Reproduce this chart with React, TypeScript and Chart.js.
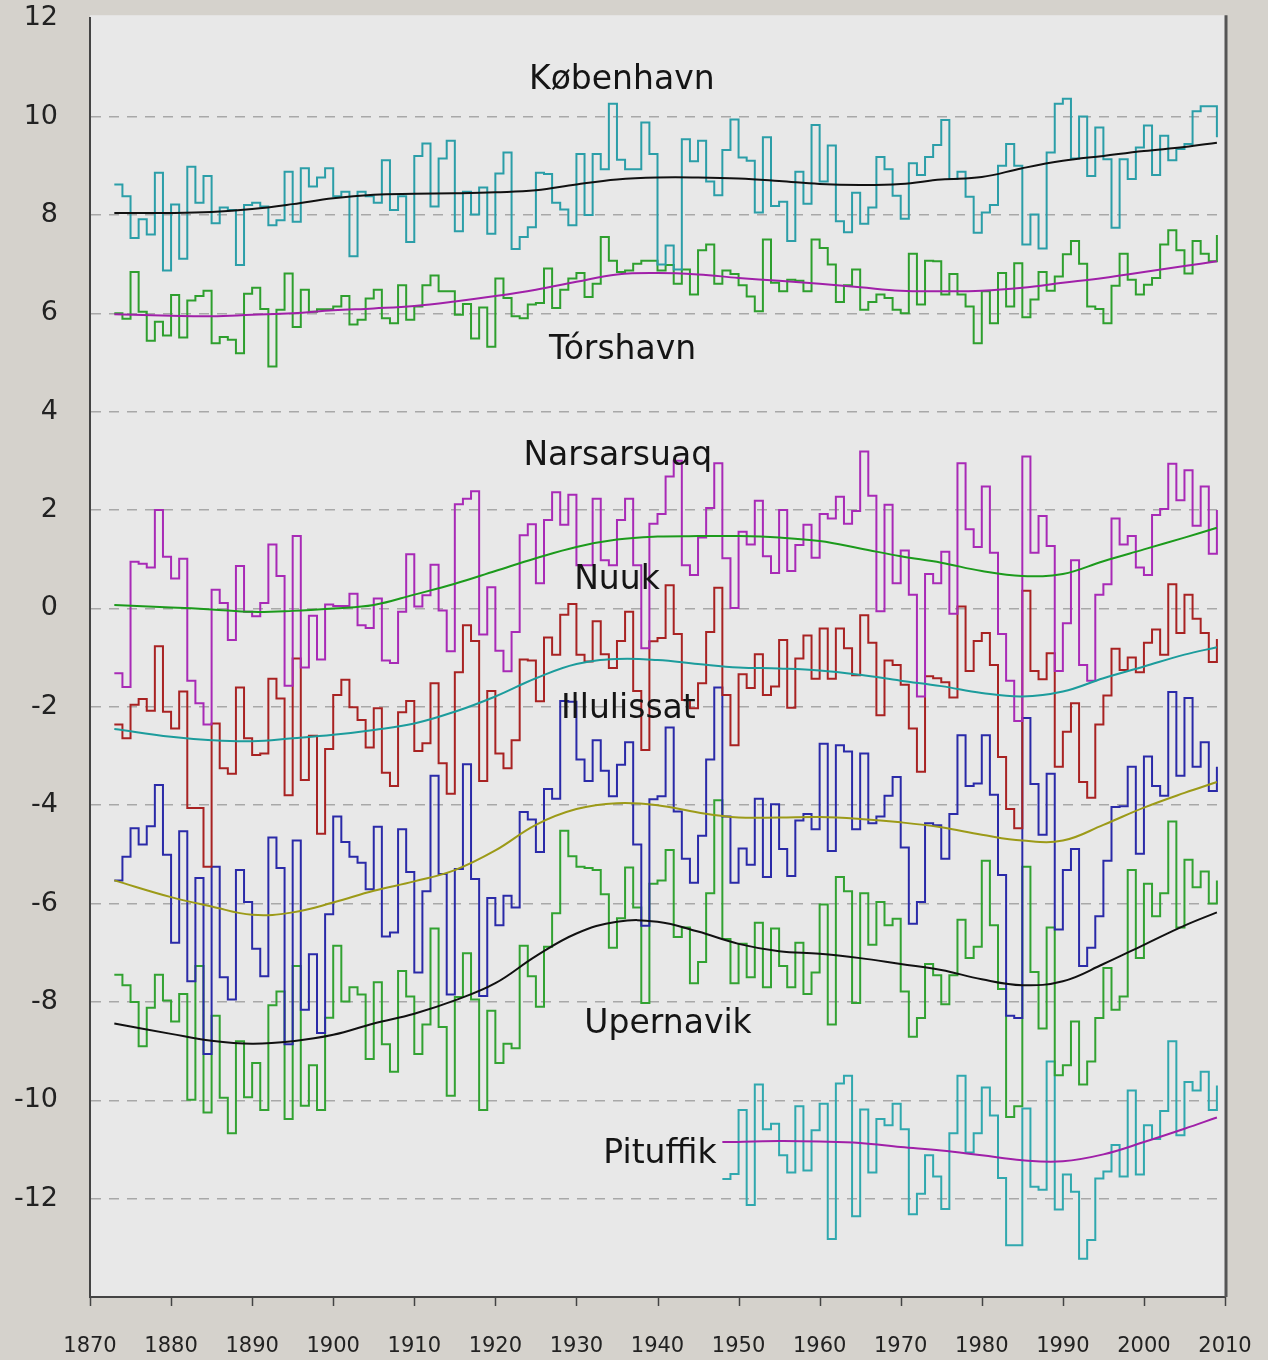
import React, { useEffect, useRef } from 'react';
import { Chart, registerables } from 'chart.js';

Chart.register(...registerables);

const FONT = "'DejaVu Sans', Verdana, sans-serif";

// first year of the long station series, and of Pituffik
const startYear = 1873;
const pituffikStart = 1948;

// annual mean temperatures (°C), 1873-2009
const kobenhavn = [
  8.62, 8.38, 7.53, 7.91, 7.60, 8.86, 6.87, 8.21, 7.11, 8.98,
  8.25, 8.79, 7.83, 8.15, 8.10, 6.98, 8.20, 8.25, 8.17, 7.79,
  7.89, 8.88, 7.86, 8.95, 8.58, 8.76, 8.95, 8.38, 8.47, 7.16,
  8.47, 8.38, 8.25, 9.11, 8.10, 8.38, 7.45, 9.20, 9.45, 8.17,
  9.15, 9.51, 7.67, 8.47, 8.01, 8.56, 7.62, 8.84, 9.27, 7.31,
  7.55, 7.75, 8.86, 8.83, 8.25, 8.11, 7.79, 9.24, 8.00, 9.24,
  8.93, 10.26, 9.12, 8.93, 8.93, 9.88, 9.24, 6.99, 7.38, 6.89,
  9.54, 9.09, 9.51, 8.68, 8.40, 9.32, 9.94, 9.17, 9.10, 8.05,
  9.58, 8.18, 8.27, 7.47, 8.88, 8.23, 9.83, 8.68, 9.41, 7.87,
  7.65, 8.45, 7.82, 8.15, 9.18, 8.93, 8.39, 7.92, 9.05, 8.81,
  9.18, 9.42, 9.93, 8.73, 8.88, 8.37, 7.64, 8.05, 8.20, 9.00,
  9.44, 9.00, 7.40, 8.01, 7.32, 9.27, 10.26, 10.36, 9.15, 10.00,
  8.79, 9.78, 9.13, 7.74, 9.13, 8.73, 9.37, 9.82, 8.81, 9.61,
  9.11, 9.34, 9.44, 10.11, 10.21, 10.21, 9.58,
];

const torshavn = [
  6.00, 5.89, 6.84, 6.03, 5.44, 5.83, 5.55, 6.37, 5.51, 6.26,
  6.35, 6.46, 5.39, 5.52, 5.46, 5.19, 6.40, 6.52, 6.09, 4.92,
  6.07, 6.81, 5.72, 6.48, 6.03, 6.08, 6.08, 6.14, 6.35, 5.77,
  5.87, 6.30, 6.48, 5.90, 5.80, 6.57, 5.87, 6.14, 6.57, 6.77,
  6.45, 6.45, 5.97, 6.19, 5.49, 6.12, 5.32, 6.71, 6.31, 5.94,
  5.90, 6.18, 6.21, 6.91, 6.11, 6.48, 6.71, 6.82, 6.33, 6.60,
  7.55, 7.07, 6.84, 6.87, 7.01, 7.07, 7.07, 6.87, 6.98, 6.60,
  6.89, 6.38, 7.28, 7.40, 6.60, 6.87, 6.80, 6.57, 6.34, 6.04,
  7.50, 6.62, 6.45, 6.68, 6.66, 6.45, 7.50, 7.33, 6.99, 6.23,
  6.57, 6.89, 6.07, 6.23, 6.38, 6.31, 6.07, 6.00, 7.21, 6.18,
  7.07, 7.06, 6.38, 6.80, 6.38, 6.14, 5.39, 6.45, 5.80, 6.82,
  6.14, 7.02, 5.92, 6.28, 6.84, 6.46, 6.75, 7.20, 7.47, 7.01,
  6.14, 6.09, 5.80, 6.56, 7.21, 6.68, 6.38, 6.58, 6.72, 7.40,
  7.69, 7.28, 6.81, 7.47, 7.21, 7.06, 7.59,
];

const narsarsuaq = [
  -1.32, -1.60, 0.95, 0.91, 0.83, 2.00, 1.05, 0.61, 1.01, -1.47,
  -1.93, -2.36, 0.38, 0.11, -0.64, 0.86, -0.07, -0.16, 0.11, 1.30,
  0.66, -1.57, 1.47, -1.20, -0.15, -1.04, 0.08, 0.05, 0.05, 0.30,
  -0.34, -0.40, 0.20, -1.06, -1.11, -0.07, 1.10, 0.04, 0.27, 0.89,
  -0.04, -0.87, 2.12, 2.23, 2.38, -0.53, 0.43, -0.86, -1.28, -0.48,
  1.49, 1.71, 0.51, 1.80, 2.36, 1.70, 2.31, 0.88, 0.88, 2.23,
  0.98, 0.88, 1.80, 2.23, 0.88, -0.81, 1.72, 1.92, 2.68, 3.00,
  0.88, 0.68, 1.44, 2.04, 2.95, 1.02, 0.01, 1.56, 1.30, 2.19,
  1.06, 0.72, 2.00, 0.76, 1.29, 1.70, 1.03, 1.92, 1.83, 2.27,
  1.72, 1.98, 3.19, 2.29, -0.06, 2.11, 0.51, 1.18, 0.28, -1.79,
  0.70, 0.51, 1.15, -0.11, 2.95, 1.61, 1.25, 2.48, 1.13, -0.52,
  -1.47, -2.29, 3.09, 1.13, 1.88, 1.27, -1.27, -0.30, 0.98, -1.15,
  -1.47, 0.28, 0.49, 1.83, 1.30, 1.47, 0.83, 0.68, 1.90, 2.02,
  2.94, 2.20, 2.81, 1.68, 2.48, 1.11, 2.00,
];

const nuuk = [
  -2.36, -2.64, -1.96, -1.84, -2.08, -0.77, -2.10, -2.44, -1.69, -4.06,
  -4.06, -5.25, -2.34, -3.25, -3.36, -1.61, -2.64, -2.98, -2.95, -1.43,
  -1.83, -3.80, -1.02, -3.49, -2.59, -4.58, -2.86, -1.76, -1.45, -2.01,
  -2.27, -2.83, -2.03, -3.34, -3.61, -2.11, -1.88, -2.90, -2.74, -1.52,
  -3.15, -3.77, -1.30, -0.34, -0.66, -3.51, -1.68, -2.95, -3.25, -2.68,
  -1.04, -1.06, -1.89, -0.59, -0.94, -0.13, 0.09, -0.94, -1.08, -0.26,
  -0.93, -1.21, -0.66, -0.07, -1.68, -2.88, -0.67, -0.60, 0.47, -0.52,
  -1.86, -2.03, -1.52, -0.48, 0.42, -1.76, -2.78, -1.34, -1.62, -0.93,
  -1.76, -1.59, -0.64, -2.02, -1.02, -0.55, -1.43, -0.41, -1.43, -0.41,
  -0.81, -1.36, -0.14, -0.70, -2.17, -1.06, -1.15, -1.55, -2.44, -3.32,
  -1.38, -1.42, -1.50, -1.81, 0.04, -1.27, -0.66, -0.50, -1.15, -3.02,
  -4.08, -4.47, 0.36, -1.27, -1.44, -0.91, -3.22, -2.51, -1.93, -3.53,
  -3.85, -2.36, -1.77, -0.82, -1.25, -1.00, -1.30, -0.70, -0.43, -0.94,
  0.49, -0.50, 0.28, -0.21, -0.50, -1.09, -0.62,
];

const illulissat = [
  -5.53, -5.05, -4.47, -4.80, -4.43, -3.59, -5.01, -6.80, -4.53, -7.58,
  -5.48, -9.06, -5.25, -7.50, -7.95, -5.32, -5.97, -6.92, -7.48, -4.66,
  -5.28, -8.86, -4.72, -8.16, -7.03, -8.63, -6.22, -4.23, -4.75, -5.05,
  -5.17, -5.71, -4.44, -6.67, -6.59, -4.49, -5.36, -7.40, -5.75, -3.40,
  -5.40, -7.85, -5.30, -3.17, -5.50, -7.88, -5.89, -6.44, -5.84, -6.08,
  -4.14, -4.29, -4.95, -3.67, -3.87, -1.88, -1.90, -3.07, -3.51, -2.68,
  -3.30, -3.82, -3.18, -2.72, -4.80, -6.45, -3.88, -3.82, -2.42, -4.13,
  -5.09, -5.58, -4.62, -3.07, -1.61, -4.23, -5.58, -4.88, -5.21, -3.87,
  -5.46, -3.98, -4.89, -5.44, -4.31, -4.18, -4.49, -2.75, -4.93, -2.78,
  -2.91, -4.49, -2.95, -4.37, -4.23, -3.81, -3.43, -4.86, -6.41, -5.97,
  -4.37, -4.41, -5.09, -4.18, -2.58, -3.61, -3.56, -2.58, -3.79, -5.42,
  -8.28, -8.33, -2.23, -3.57, -4.60, -3.36, -6.53, -5.32, -4.89, -7.27,
  -6.90, -6.26, -5.13, -4.04, -4.02, -3.22, -4.99, -3.01, -3.61, -3.81,
  -1.70, -3.40, -1.82, -3.22, -2.72, -3.71, -3.22,
];

const upernavik = [
  -7.45, -7.66, -8.00, -8.90, -8.12, -7.45, -7.97, -8.40, -7.84, -9.99,
  -7.27, -10.25, -8.28, -9.95, -10.67, -8.80, -9.94, -9.24, -10.20, -8.07,
  -7.79, -10.38, -7.27, -10.11, -9.29, -10.20, -8.32, -6.86, -7.99, -7.70,
  -7.85, -9.16, -7.60, -8.86, -9.42, -7.37, -7.89, -9.06, -8.46, -6.51,
  -8.51, -9.91, -7.90, -7.01, -7.95, -10.20, -8.18, -9.24, -8.85, -8.94,
  -6.86, -7.48, -8.10, -6.88, -6.20, -4.52, -5.04, -5.25, -5.28, -5.32,
  -5.81, -6.90, -6.30, -5.27, -6.08, -8.02, -5.60, -5.53, -4.91, -6.68,
  -6.49, -7.62, -7.19, -5.79, -3.90, -6.72, -7.62, -6.82, -7.50, -6.39,
  -7.70, -6.51, -7.27, -7.70, -6.80, -7.84, -7.40, -6.02, -8.46, -5.46,
  -5.75, -8.02, -5.79, -6.84, -5.97, -6.44, -6.31, -7.79, -8.71, -8.33,
  -7.23, -7.46, -8.05, -7.46, -6.33, -7.11, -6.88, -5.13, -6.44, -7.74,
  -10.34, -10.12, -5.25, -7.39, -8.54, -6.49, -9.49, -9.29, -8.40, -9.68,
  -9.21, -8.33, -7.31, -8.16, -7.89, -5.32, -7.11, -5.60, -6.26, -5.79,
  -4.33, -6.49, -5.11, -5.67, -5.35, -6.00, -5.53,
];

// 1948-2009
const pituffik = [
  -11.60, -11.50, -10.20, -12.13, -9.68, -10.59, -10.48, -11.12, -11.47, -10.12,
  -11.43, -10.61, -10.07, -12.82, -9.66, -9.50, -12.36, -10.19, -11.47, -10.38,
  -10.51, -10.07, -10.59, -12.32, -11.90, -11.12, -11.55, -12.21, -10.67, -9.50,
  -11.06, -10.67, -9.74, -10.31, -11.58, -12.95, -12.95, -10.17, -11.76, -11.82,
  -9.21, -12.22, -11.51, -11.86, -13.22, -12.84, -11.59, -11.45, -10.91, -11.55,
  -9.80, -11.51, -10.51, -10.79, -10.22, -8.80, -10.71, -9.63, -9.80, -9.42,
  -10.20, -9.70,
];

// smoothed trend curves
const smoothYears = [1873, 1880, 1885, 1890, 1895, 1900, 1905, 1910, 1915, 1920, 1925, 1930, 1935, 1940,
  1945, 1950, 1955, 1960, 1965, 1970, 1975, 1980, 1985, 1990, 1995, 2000, 2005, 2009];
const kobenhavnSmooth = [8.04, 8.04, 8.06, 8.12, 8.22, 8.34, 8.41, 8.43, 8.44, 8.46, 8.50, 8.62, 8.72, 8.76,
  8.76, 8.74, 8.69, 8.63, 8.61, 8.63, 8.72, 8.77, 8.95, 9.10, 9.20, 9.30, 9.38, 9.47];
const torshavnSmooth = [5.98, 5.95, 5.94, 5.97, 6.00, 6.06, 6.10, 6.15, 6.24, 6.35, 6.48, 6.64, 6.79, 6.82,
  6.79, 6.72, 6.66, 6.60, 6.53, 6.46, 6.45, 6.46, 6.52, 6.62, 6.72, 6.84, 6.96, 7.06];
const narsarsuaqSmooth = [0.07, 0.02, -0.02, -0.07, -0.05, 0.00, 0.07, 0.28, 0.50, 0.76, 1.02, 1.25, 1.40, 1.46,
  1.47, 1.47, 1.44, 1.37, 1.22, 1.06, 0.93, 0.76, 0.66, 0.70, 0.96, 1.20, 1.44, 1.64];
const nuukSmooth = [-2.45, -2.61, -2.68, -2.70, -2.64, -2.57, -2.47, -2.34, -2.10, -1.79, -1.42, -1.13, -1.03, -1.05,
  -1.13, -1.20, -1.22, -1.26, -1.35, -1.47, -1.58, -1.72, -1.79, -1.69, -1.42, -1.18, -0.94, -0.79];
const illulissatSmooth = [-5.53, -5.87, -6.06, -6.23, -6.18, -5.98, -5.74, -5.55, -5.32, -4.92, -4.40, -4.08, -3.96, -4.00,
  -4.15, -4.25, -4.25, -4.24, -4.28, -4.35, -4.45, -4.60, -4.72, -4.72, -4.40, -4.05, -3.75, -3.53];
const upernavikSmooth = [-8.44, -8.65, -8.79, -8.85, -8.80, -8.67, -8.44, -8.24, -7.97, -7.62, -7.07, -6.61, -6.37, -6.37,
  -6.57, -6.82, -6.97, -7.02, -7.11, -7.23, -7.35, -7.54, -7.66, -7.58, -7.23, -6.84, -6.45, -6.18];
const pituffikSmoothYears = [1948, 1955, 1960, 1965, 1970, 1975, 1980, 1985, 1990, 1995, 2000, 2005, 2009];
const pituffikSmooth = [-10.85, -10.83, -10.84, -10.87, -10.95, -11.02, -11.12, -11.22, -11.24, -11.10, -10.85, -10.58, -10.35];

// axis ticks
const xTicks = [1870, 1880, 1890, 1900, 1910, 1920, 1930, 1940, 1950, 1960, 1970, 1980, 1990, 2000, 2010];
const yTicks = [12, 10, 8, 6, 4, 2, 0, -2, -4, -6, -8, -10, -12];

// station names and where they are written (data coordinates)
const stationLabels = [
  { text: 'København', x: 1935.6, y: 10.74 },
  { text: 'Tórshavn', x: 1935.7, y: 5.24 },
  { text: 'Narsarsuaq', x: 1935.1, y: 3.1 },
  { text: 'Nuuk', x: 1935.0, y: 0.56 },
  { text: 'Illulissat', x: 1936.4, y: -2.05 },
  { text: 'Upernavik', x: 1941.3, y: -8.46 },
  { text: 'Pituffik', x: 1940.3, y: -11.1 },
];

const steps = (start: number, vals: number[]) => vals.map((v, i) => ({ x: start + i, y: v }));
const pairs = (xs: number[], ys: number[]) => xs.map((x, i) => ({ x, y: ys[i] }));

const stepSeries = [
  { label: 'København', data: steps(startYear, kobenhavn), color: '#2b9ea8' },
  { label: 'Tórshavn', data: steps(startYear, torshavn), color: '#2e9f2e' },
  { label: 'Narsarsuaq', data: steps(startYear, narsarsuaq), color: '#a82ab6' },
  { label: 'Nuuk', data: steps(startYear, nuuk), color: '#a82222' },
  { label: 'Illulissat', data: steps(startYear, illulissat), color: '#2a2aa8' },
  { label: 'Upernavik', data: steps(startYear, upernavik), color: '#32a232' },
  { label: 'Pituffik', data: steps(pituffikStart, pituffik), color: '#30a8ae' },
];

const smoothSeries = [
  { label: 'København trend', data: pairs(smoothYears, kobenhavnSmooth), color: '#111111' },
  { label: 'Tórshavn trend', data: pairs(smoothYears, torshavnSmooth), color: '#a020a8' },
  { label: 'Narsarsuaq trend', data: pairs(smoothYears, narsarsuaqSmooth), color: '#1c9a1c' },
  { label: 'Nuuk trend', data: pairs(smoothYears, nuukSmooth), color: '#1c9c9c' },
  { label: 'Illulissat trend', data: pairs(smoothYears, illulissatSmooth), color: '#9c9a18' },
  { label: 'Upernavik trend', data: pairs(smoothYears, upernavikSmooth), color: '#111111' },
  { label: 'Pituffik trend', data: pairs(pituffikSmoothYears, pituffikSmooth), color: '#a020a8' },
];

const backgroundPlugin = {
  id: 'bgPlugin',
  beforeDraw(chart: any) {
    const { ctx, chartArea: a, width, height } = chart;
    ctx.save();
    ctx.fillStyle = '#d5d2cc';
    ctx.fillRect(0, 0, width, height);
    ctx.fillStyle = '#e8e8e8';
    ctx.fillRect(a.left, a.top - 3, a.right - a.left, a.bottom - a.top + 3);
    ctx.restore();
  },
  afterDraw(chart: any) {
    const { ctx, chartArea: a, scales } = chart;
    ctx.save();
    ctx.strokeStyle = '#555555';
    ctx.lineWidth = 3;
    ctx.beginPath();
    ctx.moveTo(a.right + 1, a.top - 3);
    ctx.lineTo(a.right + 1, a.bottom);
    ctx.stroke();
    // short decade tick marks below the x axis
    ctx.strokeStyle = '#444444';
    ctx.lineWidth = 1.5;
    xTicks.forEach((t) => {
      const px = Math.round(scales.x.getPixelForValue(t)) + 0.5;
      ctx.beginPath();
      ctx.moveTo(px, a.bottom);
      ctx.lineTo(px, a.bottom + 9);
      ctx.stroke();
    });
    ctx.restore();
  },
};

const labelPlugin = {
  id: 'stationLabels',
  afterDatasetsDraw(chart: any) {
    const { ctx, scales } = chart;
    ctx.save();
    ctx.font = `33px ${FONT}`;
    ctx.fillStyle = '#151515';
    ctx.textAlign = 'center';
    ctx.textBaseline = 'middle';
    stationLabels.forEach((l) => {
      ctx.fillText(l.text, scales.x.getPixelForValue(l.x), scales.y.getPixelForValue(l.y));
    });
    ctx.restore();
  },
};

export default function App() {
  const ref = useRef<HTMLCanvasElement | null>(null);

  useEffect(() => {
    if (!ref.current) return;
    const datasets: any[] = [];
    smoothSeries.forEach((s) => {
      datasets.push({
        label: s.label,
        data: s.data,
        borderColor: s.color,
        borderWidth: 2,
        pointRadius: 0,
        tension: 0.4,
        fill: false,
        order: 0,
      });
    });
    stepSeries.forEach((s) => {
      datasets.push({
        label: s.label,
        data: s.data,
        borderColor: s.color,
        borderWidth: 2,
        pointRadius: 0,
        stepped: true,
        fill: false,
        order: 1,
      });
    });

    const chart = new Chart(ref.current, {
      type: 'line',
      data: { datasets },
      plugins: [backgroundPlugin, labelPlugin],
      options: {
        animation: false,
        responsive: false,
        maintainAspectRatio: false,
        layout: { padding: { left: 0, right: 43, top: 18, bottom: 0 } },
        plugins: { legend: { display: false }, tooltip: { enabled: false } },
        scales: {
          x: {
            type: 'linear',
            min: 1870,
            max: 2010,
            afterBuildTicks: (s: any) => {
              s.ticks = xTicks.map((v) => ({ value: v }));
            },
            afterFit: (s: any) => {
              s.height = 63;
            },
            ticks: {
              autoSkip: false,
              maxRotation: 0,
              color: '#222222',
              font: { family: FONT, size: 21 },
              padding: 0,
              callback: (v: any) => String(v),
            },
            grid: {
              drawOnChartArea: false,
              drawTicks: true,
              tickLength: 37,
              tickColor: 'rgba(0,0,0,0)',
              color: 'rgba(0,0,0,0)',
            },
            border: { display: true, color: '#444444', width: 2 },
          },
          y: {
            type: 'linear',
            min: -14,
            max: 12,
            afterBuildTicks: (s: any) => {
              s.ticks = yTicks.map((v) => ({ value: v }));
            },
            afterFit: (s: any) => {
              s.width = 90;
            },
            ticks: {
              color: '#222222',
              font: { family: FONT, size: 27 },
              padding: 2,
              callback: (v: any) => String(v),
            },
            grid: {
              drawTicks: true,
              tickLength: 30,
              tickColor: 'rgba(0,0,0,0)',
              color: (c: any) => (c.tick && c.tick.value === 12 ? 'rgba(0,0,0,0)' : '#a8a8a8'),
              lineWidth: 1.5,
            },
            border: { display: true, color: '#444444', width: 2, dash: [10, 8] },
          },
        },
      },
    });
    return () => chart.destroy();
  }, []);

  return (
    <div style={{ position: 'absolute', left: 0, top: 0, width: 1268, height: 1360 }}>
      <canvas ref={ref} width={1268} height={1360} style={{ display: 'block' }} />
    </div>
  );
}
